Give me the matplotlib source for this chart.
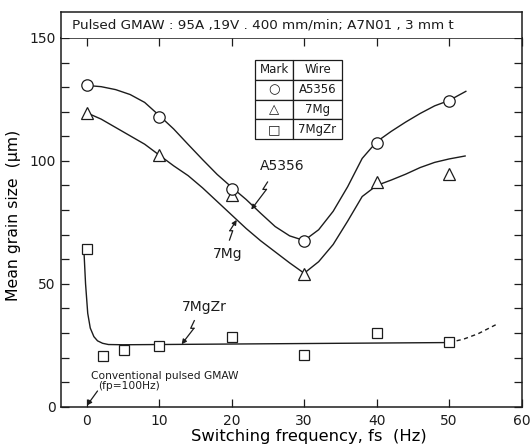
import matplotlib
matplotlib.use("Agg")
import matplotlib.pyplot as plt
from matplotlib.ticker import MultipleLocator, FixedLocator

# ---------------- data ----------------
freq = [0, 10, 20, 30, 40, 50]
a5356 = [130.7, 118.0, 88.5, 67.6, 107.4, 124.2]
mg7 = [119.6, 102.4, 86.3, 54.1, 91.6, 94.6]
mgzr_freq = [0, 2.2, 5.1, 10, 20, 30, 40, 50]
mgzr = [64.0, 20.7, 23.1, 24.6, 28.3, 21.1, 30.1, 26.2]

# hand-drawn trend curves
a5356_curve_x = [0, 2, 4, 6, 8, 10, 12, 14, 16, 18, 20, 22, 24, 26, 28, 30,
                 32, 34, 36, 38, 40, 42, 44, 46, 48, 50, 52.3]
a5356_curve_y = [130.7, 130.2, 129.0, 127.0, 123.8, 118.5, 113.0, 106.7, 100.5,
                 94.5, 89.3, 84.3, 78.7, 73.3, 69.5, 67.6, 72.0, 79.5, 89.5,
                 101.0, 107.8, 112.0, 115.8, 119.3, 122.4, 124.6, 128.3]
mg7_curve_x = [0, 2, 4, 6, 8, 10, 12, 14, 16, 18, 20, 22, 24, 26, 28, 30,
               32, 34, 36, 38, 40, 42, 44, 46, 48, 50, 52.2]
mg7_curve_y = [119.6, 117.0, 113.6, 110.2, 106.8, 102.4, 98.0, 94.0, 89.0,
               83.5, 78.0, 72.5, 67.5, 63.0, 58.5, 54.3, 59.0, 66.0, 75.5,
               85.5, 90.0, 92.2, 94.6, 97.3, 99.4, 100.8, 102.0]
mgzr_curve_x = [-0.35, -0.15, 0.15, 0.5, 1.0, 1.5, 2.2, 3, 5, 10, 20, 30, 40, 50]
mgzr_curve_y = [62.0, 50.0, 38.0, 32.0, 28.5, 26.8, 25.8, 25.3, 25.2, 25.3,
                25.5, 25.7, 25.9, 26.1]
mgzr_dash_x = [50, 52, 54, 56.6]
mgzr_dash_y = [26.1, 27.5, 29.7, 33.6]

x_ticks = [0, 10, 20, 30, 40, 50, 60]
y_ticks = [0, 50, 100, 150]

legend_marks = ["\u25CB", "\u25B3", "\u25A1"]
legend_wires = ["A5356", "7Mg", "7MgZr"]

title_text = "Pulsed GMAW : 95A ,19V . 400 mm/min; A7N01 , 3 mm t"

# ---------------- style ----------------
INK = "#1c1c1c"
plt.rcParams["font.family"] = ["DejaVu Sans"]
plt.rcParams["text.color"] = INK
plt.rcParams["axes.edgecolor"] = INK
plt.rcParams["xtick.color"] = INK
plt.rcParams["ytick.color"] = INK

fig = plt.figure(figsize=(5.30, 4.46), dpi=100)
ax = fig.add_axes([0.1160, 0.0881, 0.8683, 0.8267])
tax = fig.add_axes([0.1160, 0.9148, 0.8683, 0.0587])

lw = 1.0
mk = dict(mfc="white", mec=INK, mew=0.9, ls="none", zorder=4)

ax.plot(a5356_curve_x, a5356_curve_y, color=INK, lw=lw, zorder=2)
ax.plot(mg7_curve_x, mg7_curve_y, color=INK, lw=lw, zorder=2)
ax.plot(mgzr_curve_x, mgzr_curve_y, color=INK, lw=lw, zorder=2)
ax.plot(mgzr_dash_x, mgzr_dash_y, color=INK, lw=lw, ls=(0, (3, 2.5)), zorder=2)

ax.plot(freq, mg7, marker="^", ms=8.0, **mk)
ax.plot(freq, a5356, marker="o", ms=8.2, **mk)
ax.plot(mgzr_freq, mgzr, marker="s", ms=7.0, **mk)

ax.set_xlim(-3.47, 60)
ax.set_ylim(0, 150)
ax.xaxis.set_major_locator(FixedLocator(x_ticks))
ax.set_xticklabels([str(t) for t in x_ticks])
ax.yaxis.set_major_locator(FixedLocator(y_ticks))
ax.set_yticklabels([str(t) for t in y_ticks])
ax.yaxis.set_minor_locator(MultipleLocator(10))
ax.tick_params(which="both", direction="in", length=5.5, width=0.9,
               top=True, right=True, labelsize=10, pad=4)
ax.tick_params(axis="x", pad=5)
for s in ax.spines.values():
    s.set_linewidth(1.1)

ax.set_xlabel("Switching frequency, fs  (Hz)", fontsize=11.8, labelpad=0,
              va="center")
ax.xaxis.set_label_coords(0.538, -0.080)
ax.set_ylabel("Mean grain size  (\u03bcm)", fontsize=11.3, labelpad=6)
ax.yaxis.set_label_coords(-0.087, 0.52)

# title box
tax.set_xticks([])
tax.set_yticks([])
for s in tax.spines.values():
    s.set_linewidth(1.1)
tax.spines["bottom"].set_visible(False)
tax.text(0.022, 0.50, title_text, transform=tax.transAxes, ha="left",
         va="center", fontsize=9.7)

# legend table
tbl = ax.table(cellText=[["Mark", "Wire"]] + [[m, w] for m, w in zip(legend_marks, legend_wires)],
               colWidths=[0.442, 0.558], cellLoc="center",
               bbox=[0.4205, 0.7253, 0.1884, 0.2151])
tbl.auto_set_font_size(False)
for (r, c), cell in tbl.get_celld().items():
    cell.set_edgecolor(INK)
    cell.set_linewidth(0.9)
    cell.get_text().set_fontsize(8.5 if not (c == 0 and r > 0) else 9.5)
    cell.get_text().set_color(INK)
    cell.set_facecolor("white")

# curve labels with zig-zag leaders
def leader(pts):
    xs = [p[0] for p in pts]
    ys = [p[1] for p in pts]
    ax.plot(xs[:-1], ys[:-1], color=INK, lw=0.9, zorder=3)
    ax.annotate("", xy=pts[-1], xytext=pts[-2],
                arrowprops=dict(arrowstyle="-|>", color=INK, lw=0.9,
                                mutation_scale=7, shrinkA=0, shrinkB=0))

ax.text(27.0, 97.9, "A5356", fontsize=10, ha="center", va="center")
leader([(24.95, 91.4), (24.3, 88.4), (24.8, 88.4), (22.7, 80.2)])

ax.text(19.4, 62.2, "7Mg", fontsize=10, ha="center", va="center")
leader([(19.7, 67.8), (20.15, 71.6), (19.75, 71.6), (20.7, 76.0)])

ax.text(16.2, 40.7, "7MgZr", fontsize=10, ha="center", va="center")
leader([(14.85, 35.0), (14.35, 31.9), (14.8, 31.9), (13.1, 25.4)])

ax.text(10.8, 12.6, "Conventional pulsed GMAW", fontsize=7.7, ha="center",
        va="center")
ax.text(5.8, 8.6, "(fp=100Hz)", fontsize=7.7, ha="center", va="center")
ax.annotate("", xy=(0.05, 0.5), xytext=(1.5, 6.4),
            arrowprops=dict(arrowstyle="-|>", color=INK, lw=0.9,
                            mutation_scale=7, shrinkA=0, shrinkB=0))

fig.savefig("out.png", dpi=100, facecolor="white")
